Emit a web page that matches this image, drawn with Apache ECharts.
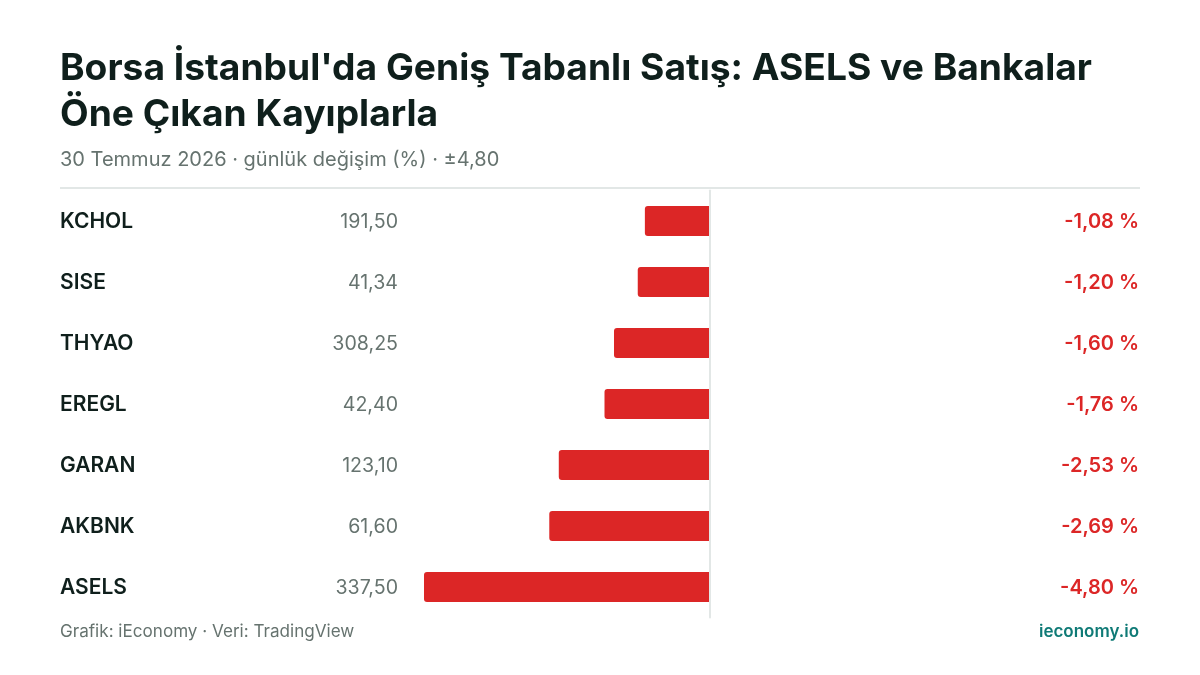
<!DOCTYPE html>
<html>
<head>
<meta charset="utf-8">
<script src="https://cdn.jsdelivr.net/npm/echarts@6/dist/echarts.min.js"></script>
<style>
html, body { margin: 0; padding: 0; background: #fff; }
#main { width: 1200px; height: 675px; }
</style>
</head>
<body>
<div id="main"></div>
<script>
var tickers = ['KCHOL', 'SISE', 'THYAO', 'EREGL', 'GARAN', 'AKBNK', 'ASELS'];
var prices = ['191,50', '41,34', '308,25', '42,40', '123,10', '61,60', '337,50'];
var changes = [-1.08, -1.20, -1.60, -1.76, -2.53, -2.69, -4.80];
var changeLabels = ['-1,08 %', '-1,20 %', '-1,60 %', '-1,76 %', '-2,53 %', '-2,69 %', '-4,80 %'];

var myChart = echarts.init(document.getElementById('main'), null, { renderer: 'canvas' });
var font = 'Inter';

var option = {
    backgroundColor: '#ffffff',
    animation: false,
    textStyle: { fontFamily: font },
    title: [
        {
            text: "Borsa İstanbul'da Geniş Tabanlı Satış: ASELS ve Bankalar\nÖne Çıkan Kayıplarla",
            left: 60, top: 46, padding: 0,
            textStyle: { fontFamily: font, fontSize: 37.2, fontWeight: 700, color: '#0f1f1c', lineHeight: 46 }
        },
        {
            text: '30 Temmuz 2026 · günlük değişim (%) · ±4,80',
            left: 60, top: 150, padding: 0,
            textStyle: { fontFamily: font, fontSize: 20, fontWeight: 400, color: '#66736f' }
        },
        {
            text: 'Grafik: iEconomy · Veri: TradingView',
            left: 60, top: 623, padding: 0,
            textStyle: { fontFamily: font, fontSize: 17.1, fontWeight: 400, color: '#66736f' }
        },
        {
            text: 'ieconomy.io',
            right: 61, top: 623, padding: 0,
            textStyle: { fontFamily: font, fontSize: 17, fontWeight: 600, color: '#0f7a76' }
        }
    ],
    graphic: [
        { type: 'rect', shape: { x: 60, y: 187, width: 1080, height: 2 }, style: { fill: '#e2e7e6' }, silent: true }
    ],
    grid: { left: 424, top: 190.5, width: 285, height: 427 },
    xAxis: { type: 'value', min: -4.8, max: 0, show: false },
    yAxis: [
        {
            type: 'category', data: tickers, inverse: true, position: 'left',
            axisLine: { show: false }, axisTick: { show: false },
            axisLabel: {
                align: 'left', margin: 364, formatter: '{a|{value}}',
                rich: { a: { padding: [2, 0, 0, 0], fontFamily: font, fontSize: 21, fontWeight: 600, color: '#0f1f1c' } }
            }
        },
        {
            type: 'category', data: prices, inverse: true, position: 'left',
            axisLine: { show: false }, axisTick: { show: false },
            axisLabel: {
                align: 'right', margin: 26, formatter: '{a|{value}}',
                rich: { a: { padding: [2, 0, 0, 0], fontFamily: font, fontSize: 19.6, color: '#66736f' } }
            }
        },
        {
            type: 'category', data: changeLabels, inverse: true, position: 'right', offset: 1,
            axisLine: { show: true, lineStyle: { color: '#e2e7e6', width: 2 } }, axisTick: { show: false },
            axisLabel: {
                align: 'right', margin: 429, formatter: '{a|{value}}',
                rich: { a: { padding: [2, 0, 0, 0], fontFamily: font, fontSize: 20, fontWeight: 600, color: '#dc2626' } }
            }
        }
    ],
    series: [
        {
            type: 'bar',
            data: changes,
            barWidth: 30,
            itemStyle: { color: '#dc2626', borderRadius: [3, 0, 0, 3] }
        }
    ]
};

myChart.setOption(option);
</script>
</body>
</html>
